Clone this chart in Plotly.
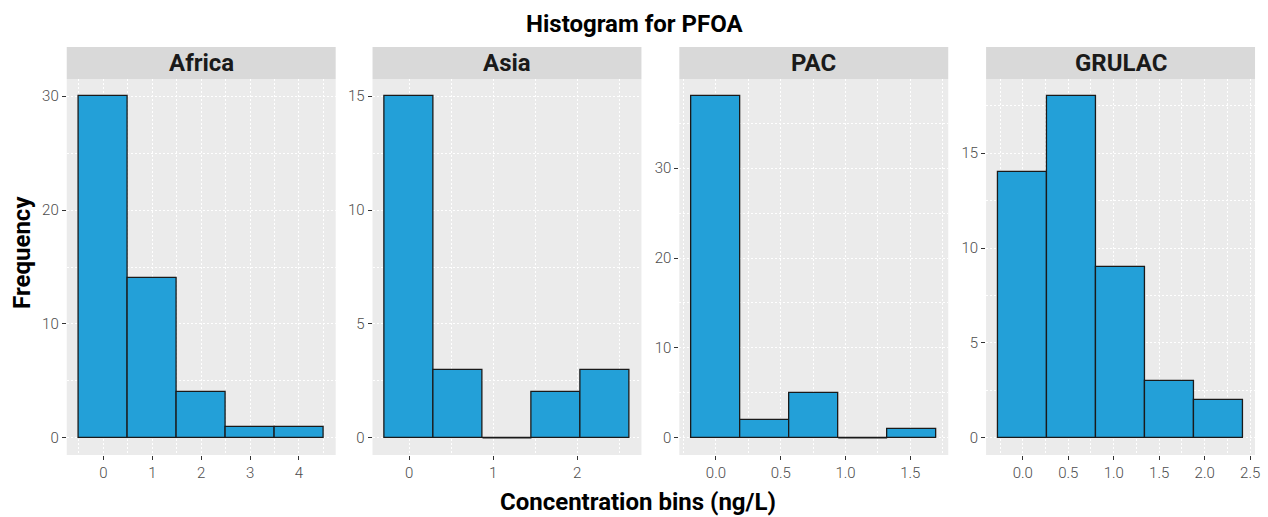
import numpy as np
import plotly.graph_objects as go

# Histogram data per region: centres of the first and last bin, and bin counts
regions = ["Africa", "Asia", "PAC", "GRULAC"]
first_centre = [0.0, 0.0, 0.0, 0.0]
last_centre = [4.0, 2.33, 1.51, 2.15]
counts = [
    [30, 14, 4, 1, 1],
    [15, 3, 0, 2, 3],
    [38, 2, 5, 0, 1],
    [14, 18, 9, 3, 2],
]
x_dtick = [1, 1, 0.5, 0.5]
y_dtick = [10, 5, 10, 5]
x_format = ["d", "d", ".1f", ".1f"]

W, H = 1268, 517
panel_left = [67, 374, 682, 990]
panel_w = 270
panel_top, panel_bot = 79, 455
strip_top = 47

BAR = "#23A0D8"
PANEL_BG = "#EBEBEB"
STRIP_BG = "#D9D9D9"
FONT = "Roboto"
DOTS = "2px,2px"

fig = go.Figure()
shapes = []
annotations = []

for i, name in enumerate(regions):
    n = len(counts[i])
    centres = np.linspace(first_centre[i], last_centre[i], n)
    width = (last_centre[i] - first_centre[i]) / (n - 1)
    xa = "x" if i == 0 else f"x{i + 1}"
    ya = "y" if i == 0 else f"y{i + 1}"
    fig.add_trace(go.Bar(
        x=centres, y=counts[i], width=width,
        marker=dict(color=BAR, line=dict(color="#1A1A1A", width=1.3)),
        xaxis=xa, yaxis=ya, showlegend=False, hoverinfo="x+y",
    ))
    # empty bins are drawn as a flat outline at zero
    for c, v in zip(centres, counts[i]):
        if v == 0:
            fig.add_trace(go.Scatter(
                x=[c - width / 2, c + width / 2], y=[0, 0], mode="lines",
                line=dict(color="#1A1A1A", width=1.3),
                xaxis=xa, yaxis=ya, showlegend=False, hoverinfo="skip",
            ))

    lo = first_centre[i] - width / 2
    hi = last_centre[i] + width / 2
    pad = (hi - lo) * 0.05
    ymax = max(counts[i])
    ypad = ymax * 0.05

    x0 = panel_left[i] / W
    x1 = (panel_left[i] + panel_w) / W
    y0 = 1 - panel_bot / H
    y1 = 1 - panel_top / H

    tickfont = dict(family=FONT, size=15, color="#4D4D4D", weight=300)
    grid = dict(showgrid=True, gridcolor="white", griddash=DOTS, gridwidth=1.3)
    fig.update_layout(**{
        ("xaxis" if i == 0 else f"xaxis{i + 1}"): dict(
            domain=[x0, x1], anchor=ya, range=[lo - pad, hi + pad],
            dtick=x_dtick[i], tick0=0, tickformat=x_format[i],
            ticks="outside", ticklen=4, tickwidth=1, tickcolor="#333333",
            tickfont=tickfont, zeroline=False, showline=False,
            minor=dict(dtick=x_dtick[i] / 2, tick0=0, showgrid=True,
                       gridcolor="white", griddash=DOTS, gridwidth=1, ticks=""),
            **grid,
        ),
        ("yaxis" if i == 0 else f"yaxis{i + 1}"): dict(
            domain=[y0, y1], anchor=xa, range=[-ypad, ymax + ypad],
            dtick=y_dtick[i], tick0=0,
            ticks="outside", ticklen=4, tickwidth=1, tickcolor="#333333",
            tickfont=tickfont, zeroline=False, showline=False,
            minor=dict(dtick=y_dtick[i] / 2, tick0=0, showgrid=True,
                       gridcolor="white", griddash=DOTS, gridwidth=1, ticks=""),
            **grid,
        ),
    })

    # facet strip
    shapes.append(dict(
        type="rect", xref="paper", yref="paper",
        x0=x0, x1=x1, y0=y1, y1=1 - strip_top / H,
        fillcolor=STRIP_BG, line=dict(width=0), layer="below",
    ))
    annotations.append(dict(
        text=f"<b>{name}</b>", xref="paper", yref="paper",
        x=(x0 + x1) / 2, y=(y1 + 1 - strip_top / H) / 2,
        xanchor="center", yanchor="middle", showarrow=False,
        font=dict(family=FONT, size=24, color="#1A1A1A"),
    ))

annotations += [
    dict(text="<b>Histogram for PFOA</b>", xref="paper", yref="paper",
         x=638 / W, y=1 - 24 / H, xanchor="center", yanchor="middle",
         showarrow=False, font=dict(family=FONT, size=24, color="black")),
    dict(text="<b>Concentration bins (ng/L)</b>", xref="paper", yref="paper",
         x=641 / W, y=1 - 502 / H, xanchor="center", yanchor="middle",
         showarrow=False, font=dict(family=FONT, size=24, color="black")),
    dict(text="<b>Frequency</b>", xref="paper", yref="paper",
         x=22 / W, y=1 - 252 / H, xanchor="center", yanchor="middle",
         textangle=-90, showarrow=False,
         font=dict(family=FONT, size=24, color="black")),
]

fig.update_layout(
    width=W, height=H,
    margin=dict(l=0, r=0, t=0, b=0),
    paper_bgcolor="white", plot_bgcolor=PANEL_BG,
    bargap=0, shapes=shapes, annotations=annotations,
    font=dict(family=FONT),
)

fig.write_html("out.html")
